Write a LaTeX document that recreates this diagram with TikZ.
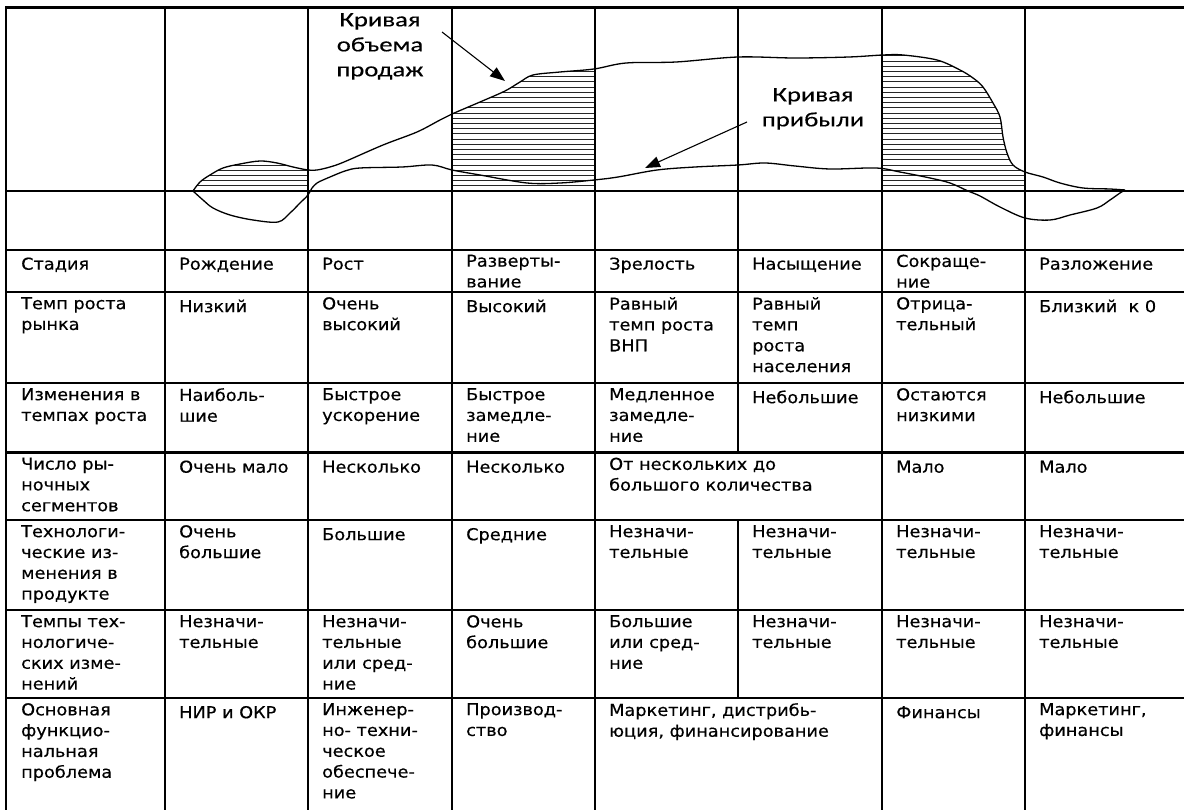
\documentclass[tikz,border=0pt]{standalone}
\usepackage{fontspec}
\newfontfamily\tabfont[FakeStretch=1.08,FakeBold=0.4]{DejaVu Sans}
\newfontfamily\lblfont[FakeStretch=1.3,FakeBold=0.3]{Carlito}
\usetikzlibrary{arrows.meta}

\begin{document}
\begin{tikzpicture}[x=1pt,y=-1pt,
  grid/.style={line width=2.9pt, line cap=rect},
  curve/.style={line width=1.3pt, line join=round},
  hatch/.style={line width=0.9pt, black!85},
  celltext/.style={anchor=north west, inner sep=0pt, align=left,
    font={\tabfont\fontsize{16.4}{20.8}\selectfont},
    execute at begin node={\rule{0pt}{15pt}}},
  curvelabel/.style={anchor=north, inner sep=0pt, align=center,
    font={\lblfont\fontsize{20.5}{25}\selectfont},
    execute at begin node={\rule{0pt}{19pt}}},
  pointer/.style={line width=1.1pt, -{Triangle[length=15pt,width=11pt]}}
]
\useasboundingbox (0,0) rectangle (1184,810);
\fill[white] (0,0) rectangle (1184,810);

% sales volume and profit curves
\path[save path=\salespath] plot[smooth, tension=0.55] coordinates {
  (193,191) (200,182) (210,175) (223,168) (240,164) (260,161) (277,163)
  (293,167) (308,170) (317,170) (330,167) (344,162) (383,145) (417,132)
  (440,120) (452,114) (480,102) (505,91) (520,82) (533,75) (560,72)
  (594,69) (626,63) (676,62) (738,57) (795,58) (849,57) (883,55)
  (903,55) (937,60) (960,70) (973,78) (983,87) (993,103) (1000,117)
  (1003,137) (1007,153) (1013,165) (1025,172) (1043,177) (1060,183)
  (1083,188) (1110,189) (1125,190)};
\path[save path=\profitpath] plot[smooth, tension=0.55] coordinates {
  (193,191) (203,200) (213,208) (230,215) (253,220) (278,222) (290,213)
  (300,203) (308,195) (312,188) (317,183) (323,180) (330,177) (345,171)
  (360,168) (402,167) (432,165) (452,170) (480,175) (527,183) (560,183)
  (594,180) (618,177) (657,170) (695,167) (738,165) (765,163) (795,166)
  (830,169) (876,168) (900,172) (930,178) (950,183) (968,191) (980,196)
  (1000,207) (1025,218) (1050,220) (1070,215) (1097,208) (1110,200)
  (1120,193) (1125,190)};

% hatching under the sales curve in three stages
\begin{scope}
  \clip[use path=\salespath];
  \clip (165,0) rectangle (308,191) (452,0) rectangle (595,191)
        (882,0) rectangle (1025,191);
  \foreach \k in {1,...,28}
    \draw[hatch] (160,{191-5.2*\k}) -- (1030,{191-5.2*\k});
\end{scope}

\draw[curve, use path=\salespath];
\draw[curve, use path=\profitpath];

% table grid
\foreach \y in {7.5,191,250,292,383,452.5,520,610,698}
  \draw[grid] (6,\y) -- (1184,\y);
\foreach \x in {6,165,308,452,595,882,1025}
  \draw[grid] (\x,7.5) -- (\x,810);
\draw[grid] (738,7.5) -- (738,452.5);
\draw[grid] (738,520) -- (738,698);

% curve labels and pointers
\node[curvelabel] (lblSales) at (380,13) {Кривая\\объема\\продаж};
\node[curvelabel] (lblProfit) at (813,88) {Кривая\\прибыли};
\coordinate (salesTail) at (442,32);
\coordinate (salesTip) at (505,81);
\coordinate (profitTail) at (747,122);
\coordinate (profitTip) at (645,168);
\draw[pointer] (salesTail) -- (salesTip);
\draw[pointer] (profitTail) -- (profitTip);

% row: stage
\node[celltext] (a0) at (21,254.5) {Стадия};
\node[celltext] (a1) at (179,254.5) {Рождение};
\node[celltext] (a2) at (322,254.5) {Рост};
\node[celltext] (a3) at (466,254.5) {Разверты-\\вание};
\node[celltext] (a4) at (609,254.5) {Зрелость};
\node[celltext] (a5) at (752,254.5) {Насыщение};
\node[celltext] (a6) at (896,254.5) {Сокраще-\\ние};
\node[celltext] (a7) at (1039,254.5) {Разложение};

% row: market growth rate
\node[celltext] (b0) at (21,297) {Темп роста\\рынка};
\node[celltext] (b1) at (179,297) {Низкий};
\node[celltext] (b2) at (322,297) {Очень\\высокий};
\node[celltext] (b3) at (466,297) {Высокий};
\node[celltext] (b4) at (609,297) {Равный\\темп роста\\ВНП};
\node[celltext] (b5) at (752,297) {Равный\\темп\\роста\\населения};
\node[celltext] (b6) at (896,297) {Отрица-\\тельный};
\node[celltext] (b7) at (1039,297) {Близкий~~к 0};

% row: change in growth rate
\node[celltext] (c0) at (21,388) {Изменения в\\темпах роста};
\node[celltext] (c1) at (179,388) {Наиболь-\\шие};
\node[celltext] (c2) at (322,388) {Быстрое\\ускорение};
\node[celltext] (c3) at (466,388) {Быстрое\\замедле-\\ние};
\node[celltext] (c4) at (609,388) {Медленное\\замедле-\\ние};
\node[celltext] (c5) at (752,388) {Небольшие};
\node[celltext] (c6) at (896,388) {Остаются\\низкими};
\node[celltext] (c7) at (1039,388) {Небольшие};

% row: number of market segments
\node[celltext] (d0) at (21,457.5) {Число ры-\\ночных\\сегментов};
\node[celltext] (d1) at (179,457.5) {Очень мало};
\node[celltext] (d2) at (322,457.5) {Несколько};
\node[celltext] (d3) at (466,457.5) {Несколько};
\node[celltext] (d4) at (609,457.5) {От нескольких до\\большого количества};
\node[celltext] (d6) at (896,457.5) {Мало};
\node[celltext] (d7) at (1039,457.5) {Мало};

% row: technological change in product
\node[celltext] (e0) at (21,525) {Технологи-\\ческие из-\\менения в\\продукте};
\node[celltext] (e1) at (179,525) {Очень\\большие};
\node[celltext] (e2) at (322,525) {Большие};
\node[celltext] (e3) at (466,525) {Средние};
\node[celltext] (e4) at (609,525) {Незначи-\\тельные};
\node[celltext] (e5) at (752,525) {Незначи-\\тельные};
\node[celltext] (e6) at (896,525) {Незначи-\\тельные};
\node[celltext] (e7) at (1039,525) {Незначи-\\тельные};

% row: rate of technological change
\node[celltext] (f0) at (21,615) {Темпы тех-\\нологиче-\\ских изме-\\нений};
\node[celltext] (f1) at (179,615) {Незначи-\\тельные};
\node[celltext] (f2) at (322,615) {Незначи-\\тельные\\или сред-\\ние};
\node[celltext] (f3) at (466,615) {Очень\\большие};
\node[celltext] (f4) at (609,615) {Большие\\или сред-\\ние};
\node[celltext] (f5) at (752,615) {Незначи-\\тельные};
\node[celltext] (f6) at (896,615) {Незначи-\\тельные};
\node[celltext] (f7) at (1039,615) {Незначи-\\тельные};

% row: main functional problem
\node[celltext] (g0) at (21,703) {Основная\\функцио-\\нальная\\проблема};
\node[celltext] (g1) at (179,703) {НИР и ОКР};
\node[celltext] (g2) at (322,703) {Инженер-\\но- техни-\\ческое\\обеспече-\\ние};
\node[celltext] (g3) at (466,703) {Производ-\\ство};
\node[celltext] (g4) at (609,703) {Маркетинг, дистрибь-\\юция, финансирование};
\node[celltext] (g6) at (896,703) {Финансы};
\node[celltext] (g7) at (1039,703) {Маркетинг,\\финансы};
\end{tikzpicture}
\end{document}
